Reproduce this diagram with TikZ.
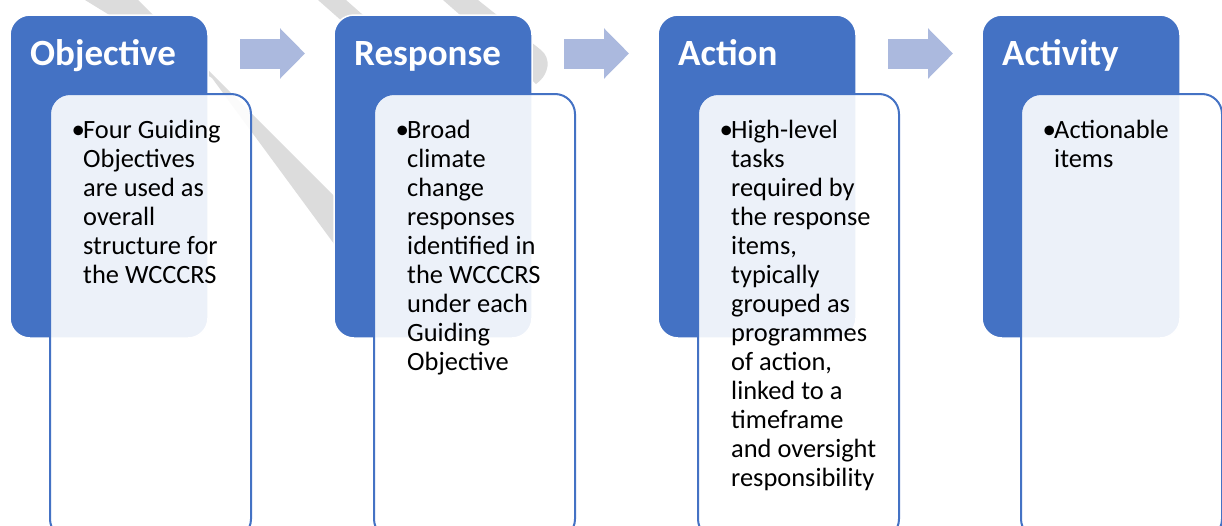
\documentclass[tikz,border=0pt]{standalone}
\usepackage{fontspec}
\setmainfont{Carlito}
\usetikzlibrary{arrows.meta}
\definecolor{accblue}{RGB}{68,114,196}
\definecolor{arrowc}{RGB}{171,185,222}
\definecolor{wmgray}{RGB}{220,220,220}
\begin{document}
\begin{tikzpicture}[x=1pt,y=-1pt,
  titlebox/.style={draw=white, line width=1.5pt, fill=accblue, rounded corners=20pt,
    minimum width=198pt, minimum height=323pt, anchor=north west, inner sep=0pt, outer sep=0pt},
  textbox/.style={draw=accblue, line width=2pt, fill=white, fill opacity=0.9, rounded corners=20pt,
    minimum width=201pt, minimum height=445pt, anchor=north west, inner sep=0pt, outer sep=0pt},
  titletext/.style={anchor=base west, text=white, font=\fontsize{37}{40}\selectfont\bfseries, inner sep=0pt},
  bodytext/.style={anchor=base west, font=\fontsize{26.4}{29}\selectfont, inner sep=0pt},
  bul/.style={anchor=base west, font=\fontsize{27}{29}\selectfont, inner sep=0pt},
  blockarrow/.style={draw=arrowc, line width=30pt, -{Triangle[length=25pt,width=49pt]}},
  watermark/.style={fill=wmgray, draw=none}
]
\useasboundingbox (0,0) rectangle (1222,525);
% watermark fragments
\fill[watermark] (85,0) -- (138,0) -- (340,202) -- (340,252) -- (212,78) -- cycle;
\fill[watermark] (318,0) -- (346,0) -- (380,30) -- (352,30) -- cycle;
\fill[watermark] (443,0) -- (478,0) -- (541,50) .. controls (551,58) and (550,74) .. (536,84) -- (500,50) -- cycle;
% title boxes
\node[titlebox] (b1) at (10,15) {};
\node[titlebox] (b2) at (334,15) {};
\node[titlebox] (b3) at (658,15) {};
\node[titlebox] (b4) at (982,15) {};
% arrows
\coordinate (a1s) at (240,53.5); \coordinate (a1e) at (305,53.5);
\coordinate (a2s) at (564,53.5); \coordinate (a2e) at (629,53.5);
\coordinate (a3s) at (888,53.5); \coordinate (a3e) at (953,53.5);
\draw[blockarrow] (a1s) -- (a1e);
\draw[blockarrow] (a2s) -- (a2e);
\draw[blockarrow] (a3s) -- (a3e);
% text boxes
\node[textbox] (t1) at (50,94) {};
\node[textbox] (t2) at (374,94) {};
\node[textbox] (t3) at (698,94) {};
\node[textbox] (t4) at (1021,94) {};
% titles
\node[titletext] (h1) at (30,65) {Objective};
\node[titletext] (h2) at (354,65) {Response};
\node[titletext] (h3) at (678,65) {Action};
\node[titletext] (h4) at (1002,65) {Activity};
% bullets
\node[bul] (p1) at (71.5,138) {•};
\node[bul] (p2) at (395.5,138) {•};
\node[bul] (p3) at (719.5,138) {•};
\node[bul] (p4) at (1042.5,138) {•};
% body texts
\node[bodytext] (x1) at (83,138) {\parbox[t]{190pt}{\raggedright Four Guiding\\Objectives\\are used as\\overall\\structure for\\the WCCCRS}};
\node[bodytext] (x2) at (407,138) {\parbox[t]{190pt}{\raggedright Broad\\climate\\change\\responses\\identified in\\the WCCCRS\\under each\\Guiding\\Objective}};
\node[bodytext] (x3) at (731,138) {\parbox[t]{190pt}{\raggedright High-level\\tasks\\required by\\the response\\items,\\typically\\grouped as\\programmes\\of action,\\linked to a\\timeframe\\and oversight\\responsibility}};
\node[bodytext] (x4) at (1054,138) {\parbox[t]{190pt}{\raggedright Actionable\\items}};
\end{tikzpicture}
\end{document}
